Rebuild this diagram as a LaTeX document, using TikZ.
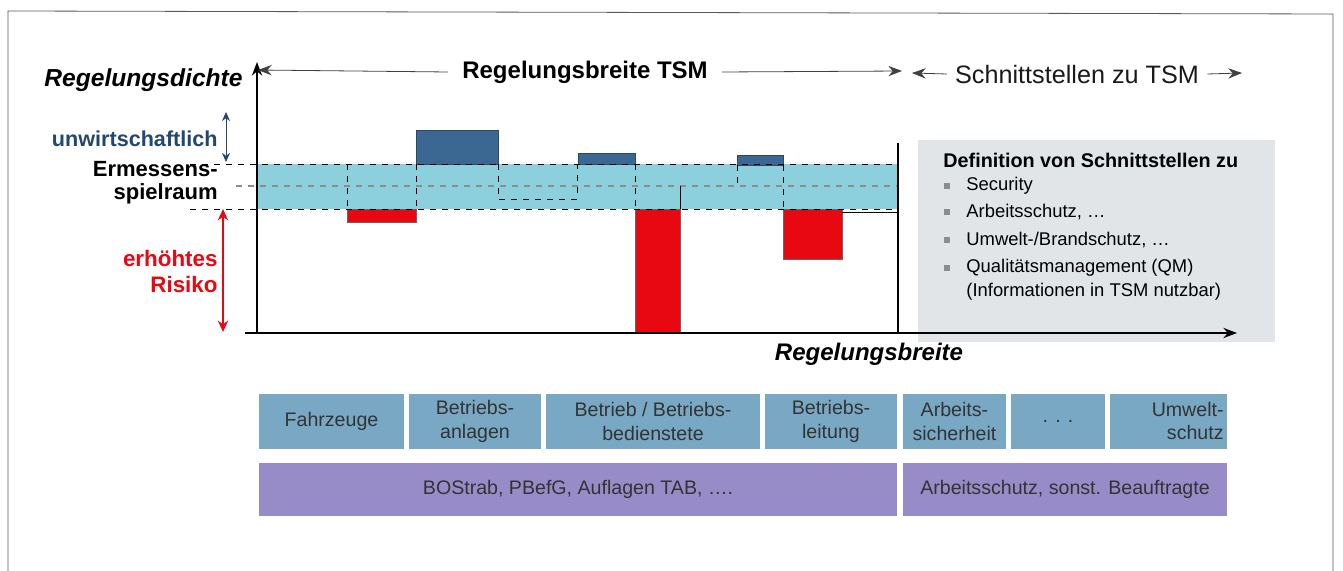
\documentclass[tikz,border=0pt]{standalone}
\usepackage{fontspec}
\setmainfont{Liberation Sans}
\usetikzlibrary{arrows.meta, calc, positioning}
\definecolor{bandCyan}{RGB}{140,208,222}
\definecolor{barBlue}{RGB}{58,104,146}
\definecolor{riskRed}{RGB}{232,8,18}
\definecolor{cellBlue}{RGB}{120,168,196}
\definecolor{lawLilac}{RGB}{152,140,200}
\definecolor{boxGray}{RGB}{226,229,232}
\definecolor{inkBlue}{RGB}{35,72,112}
\tikzset{
    axisLine/.style={thick, black},
    spanArrow/.style={-{Stealth[length=2.4mm, width=1.8mm]}, thin, black!75},
    bandEdge/.style={dashed, thin, black},
    midLine/.style={dashed, thick, black!45},
    stepLine/.style={dashed, thin, black},
    barHigh/.style={fill=barBlue, draw=barBlue!70!black, thin},
    barLow/.style={fill=riskRed, draw=black!60, thin},
    cellTop/.style={fill=cellBlue, draw=white, thick},
    cellLaw/.style={fill=lawLilac, draw=white, thick},
    cellText/.style={align=center, text=black!80, font=\fontsize{9.8}{11.8}\selectfont, inner sep=1pt},
    sideLabel/.style={anchor=east, align=right, font=\bfseries\fontsize{11}{11.5}\selectfont, inner sep=0pt},
    listItem/.style={anchor=west, inner sep=0pt, font=\fontsize{9.2}{10}\selectfont},
    listDot/.style={fill=black!45, inner sep=0pt, minimum size=3pt},
}
\newcommand{\drawBar}[5][barHigh]{
    \draw[#1] (#2,#3) rectangle (#4,#5);
}
\newcommand{\tsmCell}[7][cellTop]{
    \draw[#1] (#3,#4) rectangle (#5,#6);
    \node[cellText] (#2) at ($(#3,#4)!0.5!(#5,#6)$) {#7};
}

\begin{document}
\begin{tikzpicture}[x=0.5pt, y=-0.5pt]
    \useasboundingbox (0,0) rectangle (1343,571);

    % frame
    \draw[black!65] (8,571) -- (8,11) -- (1333,14) -- (1333,571);

    % grey box for the interfaces
    \fill[boxGray] (918,140) rectangle (1275,342);

    % band of discretion
    \fill[bandCyan] (258,164) rectangle (898,209);
    \drawBar[barLow]{347}{209}{416}{222}
    \drawBar{416}{130}{498}{164}
    \drawBar{578}{153}{635}{164}
    \drawBar[barLow]{635}{209}{680}{333}
    \drawBar{737}{155}{783}{165}
    \drawBar[barLow]{783}{209}{842}{259}

    \draw[bandEdge] (190,164) -- (898,164);
    \draw[bandEdge] (190,209) -- (898,209);
    \draw[midLine] (236,186) -- (898,186);

    % steps
    \draw[stepLine] (347,164) -- (347,209);
    \draw[stepLine] (416,164) -- (416,209);
    \draw[stepLine] (498,164) -- (498,199) -- (577,199) -- (577,164);
    \draw[stepLine] (635,164) -- (635,209);
    \draw[thin] (680,186) -- (680,209);
    \draw[stepLine] (737,165) -- (737,186);
    \draw[stepLine] (783,165) -- (783,209);
    \draw[thin] (842,212) -- (898,212);

    % axes
    \coordinate (origin) at (257,333);
    \coordinate (yTip) at (257,62);
    \coordinate (xStart) at (245,333);
    \coordinate (xTip) at (1237,333);
    \draw[axisLine, -{Stealth[length=2.4mm, width=1.8mm]}] (origin) -- (yTip);
    \draw[axisLine, -{Stealth[length=2.4mm, width=1.8mm]}] (xStart) -- (xTip);
    \draw[axisLine] (898,143) -- (898,333);

    % top span arrows
    \node[font=\bfseries\fontsize{12}{14}\selectfont, inner sep=7pt] (rbTSM) at (585,72) {Regelungsbreite TSM};
    \coordinate (rbLeft) at (258,70);
    \coordinate (rbRight) at (902,71);
    \draw[spanArrow] (rbTSM.west) -- (rbLeft);
    \draw[spanArrow] (rbTSM.east) -- (rbRight);
    \node[font=\fontsize{12.6}{14}\selectfont, text=black!90, inner sep=4pt] (stTSM) at (1077,74) {Schnittstellen zu TSM};
    \coordinate (stLeft) at (912,73);
    \coordinate (stRight) at (1242,73);
    \draw[spanArrow] (stTSM.west) -- (stLeft);
    \draw[spanArrow] (stTSM.east) -- (stRight);

    % axis labels
    \node[anchor=east, inner sep=0pt, font=\bfseries\itshape\fontsize{12.3}{14}\selectfont] (dichte) at (243,80) {Regelungsdichte};
    \node[font=\bfseries\itshape\fontsize{12}{14}\selectfont, inner sep=0pt] (breite) at (869,354) {Regelungsbreite};

    % side labels
    \node[sideLabel, text=inkBlue, font=\bfseries\fontsize{10.8}{11}\selectfont] (unwirt) at (218,139) {unwirtschaftlich};
    \coordinate (unTop) at (226,112);
    \coordinate (unBot) at (226,162);
    \draw[inkBlue, {Stealth[length=1.6mm, width=1.4mm]}-{Stealth[length=1.6mm, width=1.4mm]}] (unTop) -- (unBot);
    \node[sideLabel] (ermessen) at (218,183) {Ermessens-\\spielraum};
    \node[sideLabel, text=riskRed, font=\bfseries\fontsize{11.2}{13}\selectfont] (risiko) at (218,271) {erhöhtes\\Risiko};
    \coordinate (rkTop) at (223,209);
    \coordinate (rkBot) at (223,332);
    \draw[riskRed, thick, {Stealth[length=2mm, width=1.8mm]}-{Stealth[length=2mm, width=1.8mm]}] (rkTop) -- (rkBot);

    % interface list
    \node[listItem, font=\bfseries\fontsize{9.9}{10}\selectfont] (defTitle) at (943,160) {Definition von Schnittstellen zu};
    \foreach \name/\yy/\txt in {sec/186/Security, arb/212/{Arbeitsschutz, \ldots}, umw/240/{Umwelt-/Brandschutz, \ldots}, qm/268/{Qualitätsmanagement (QM)}}{
        \node[listDot] (dot\name) at (947,\yy) {};
        \node[listItem] (item\name) at (966,\yy) {\txt};
    }
    \node[listItem] (itemInfo) at (966,292) {(Informationen in TSM nutzbar)};

    % fields of regulation
    \tsmCell{fahr}{258}{393}{405}{450}{Fahrzeuge}
    \tsmCell{anl}{408}{393}{542}{450}{Betriebs-\\anlagen}
    \tsmCell{bed}{545}{393}{761}{450}{Betrieb / Betriebs-\\bedienstete}
    \tsmCell{leit}{764}{393}{898}{450}{Betriebs-\\leitung}
    \tsmCell{sich}{902}{393}{1007}{450}{Arbeits-\\sicherheit}
    \tsmCell{dots}{1010}{393}{1106}{450}{. . .}
    \draw[cellTop] (1109,393) rectangle (1228,450);
    \node[cellText, align=right, anchor=east] (umwelt) at (1226,421) {Umwelt-\\schutz};

    \tsmCell[cellLaw]{bostrab}{258}{462}{898}{517}{BOStrab, PBefG, Auflagen TAB, \ldots.}
    \tsmCell[cellLaw]{beauf}{902}{462}{1228}{517}{Arbeitsschutz, sonst. Beauftragte}

\end{tikzpicture}
\end{document}
